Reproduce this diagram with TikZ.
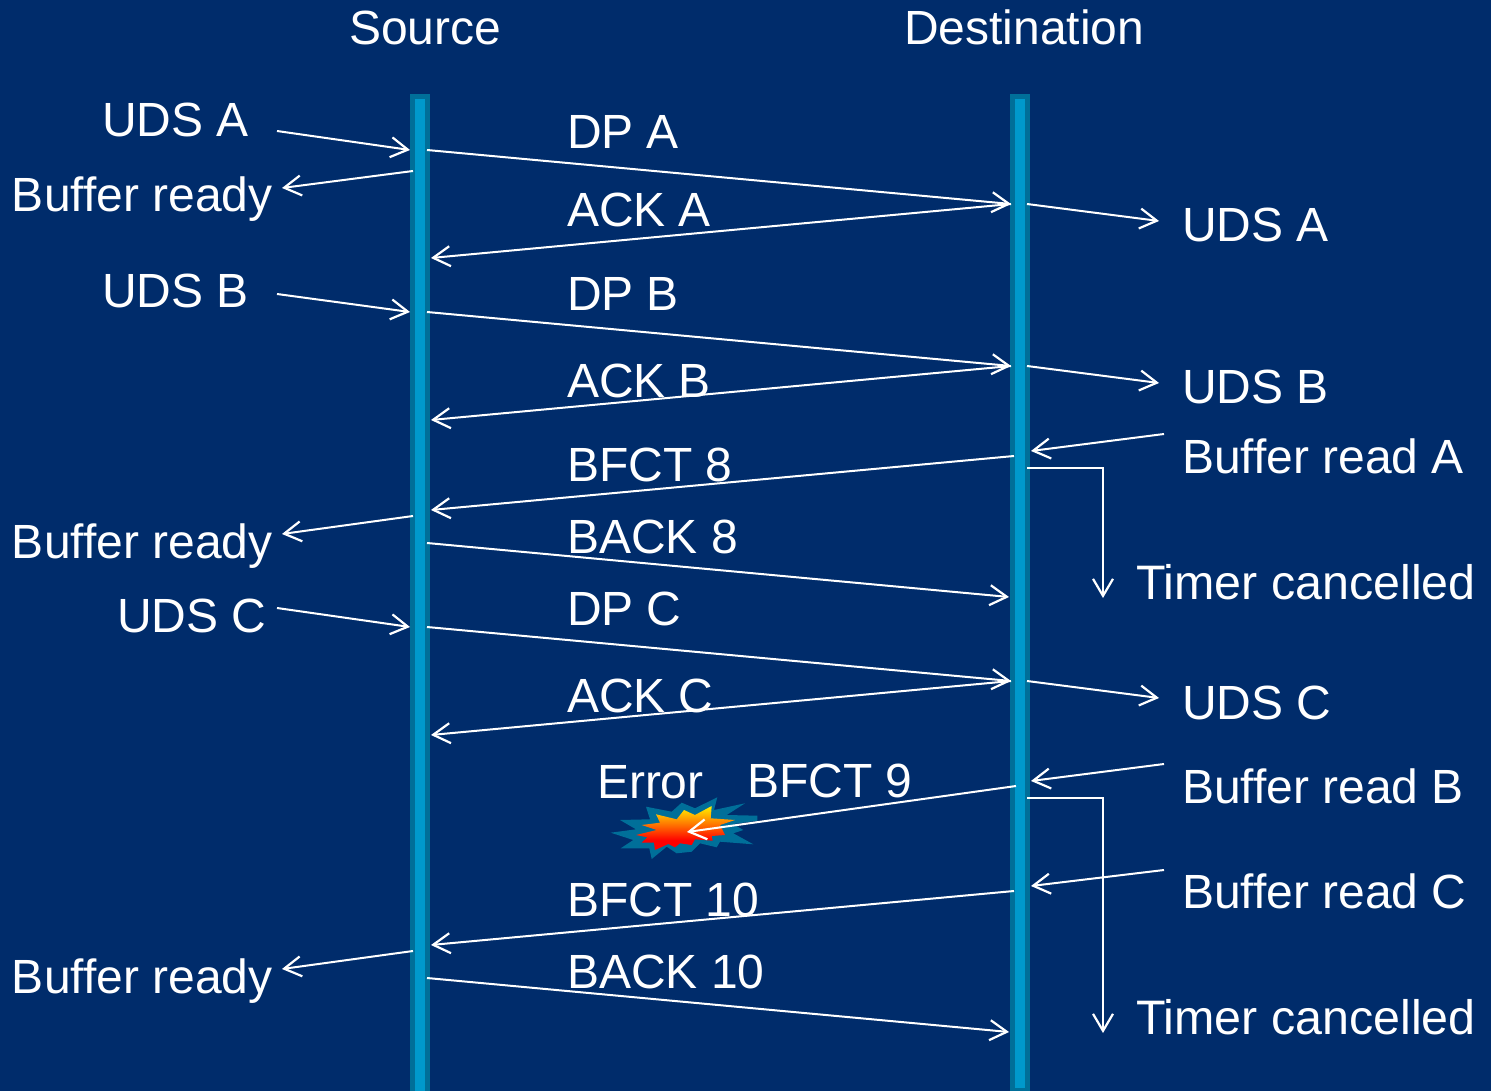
\documentclass[tikz,border=0pt]{standalone}
\usepackage{fontspec}
\setmainfont{Liberation Sans}
\usetikzlibrary{arrows.meta}
\definecolor{bgblue}{HTML}{002C6B}
\definecolor{barouter}{HTML}{006F99}
\definecolor{barinner}{HTML}{0099CC}
\pgfdeclareverticalshading{blast}{100bp}{color(0bp)=(red); color(36bp)=(red); color(56bp)=(orange); color(75bp)=(yellow!90!orange); color(100bp)=(yellow!90!orange)}
\tikzset{
  lbl/.style={anchor=base west,inner sep=0pt,outer sep=0pt,text=white,font=\fontsize{48}{50}\selectfont},
  head/.style={lbl},
  wide/.style={lbl,font=\fontsize{48.4}{50}\selectfont},
  msg/.style={draw=white,line width=2pt,-{Straight Barb[length=17pt,width=20pt,line width=2.2pt]}},
}
\newcommand{\pt}[3]{\coordinate (#1) at (#2,#3);}
\begin{document}
\begin{tikzpicture}[x=1pt,y=-1pt]
\useasboundingbox (0,0) rectangle (1491,1091);
\fill[bgblue] (0,0) rectangle (1491,1091);
% bars
\fill[barouter] (410,94) rectangle (430,1091);
\fill[barinner] (415,99) rectangle (425,1091);
\fill[barouter] (1010,94) rectangle (1030,1091);
\fill[barinner] (1015,99) rectangle (1025,1088);
% explosion
\fill[barouter] (610.7,832.7) -- (636,829.3) -- (620,820) -- (650,819.3) -- (646,806.7) -- (671.7,811.7) -- (681.7,802.7) -- (695,808.3) -- (717.3,797.3) -- (714,810) -- (745,803.3) -- (726.7,815) -- (757.3,815.7) -- (757.3,820.7) -- (733.3,824) -- (743.3,830) -- (733.3,833.3) -- (753.3,844.3) -- (720,841.7) -- (716.7,847.3) -- (700,843.3) -- (691.7,851.7) -- (676.7,853.3) -- (666.7,846.7) -- (651.7,859) -- (649.3,848.3) -- (620.7,848.3) -- (633.3,840) -- cycle;
\shade[shading=blast] (636,835) -- (656.7,830) -- (641.7,825) -- (660,822.7) -- (656,814.3) -- (676.7,819.3) -- (684,810) -- (695,815) -- (711.7,806) -- (710.7,818.3) -- (735,820) -- (720,825) -- (725,835) -- (711.7,836) -- (712.7,840.7) -- (695,839.3) -- (691.7,845) -- (680,843.3) -- (675,847.3) -- (668.3,844) -- (655,850) -- (654,842.7) -- (641.7,842.7) -- (647.3,837.3) -- cycle;
% texts
\node[head] (srcT) at (349,44.5) {Source};
\node[head] (dstT) at (904,44.5) {Destination};
\node[lbl] (t1) at (102,137) {UDS A};
\node[lbl] (t2) at (12,212) {Buffer ready};
\node[lbl] (t3) at (567,148.5) {DP A};
\node[lbl] (t4) at (567,226.5) {ACK A};
\node[lbl] (t5) at (1182,241.5) {UDS A};
\node[lbl] (t6) at (102,308) {UDS B};
\node[lbl] (t7) at (567,310) {DP B};
\node[lbl] (t8) at (567,397) {ACK B};
\node[lbl] (t9) at (1182,403) {UDS B};
\node[lbl] (t10) at (567,481) {BFCT 8};
\node[lbl] (t11) at (1182,473) {Buffer read A};
\node[lbl] (t12) at (12,558) {Buffer ready};
\node[lbl] (t13) at (567,553) {BACK 8};
\node[wide] (t14) at (1136,599) {Timer cancelled};
\node[lbl] (t15) at (567,625) {DP C};
\node[lbl] (t16) at (117,632) {UDS C};
\node[lbl] (t17) at (567,712) {ACK C};
\node[lbl] (t18) at (1182,719) {UDS C};
\node[lbl] (t19) at (597,798) {Error};
\node[lbl] (t20) at (747,797) {BFCT 9};
\node[lbl] (t21) at (1182,803) {Buffer read B};
\node[lbl] (t22) at (1182,908) {Buffer read C};
\node[lbl] (t23) at (567,916) {BFCT 10};
\node[lbl] (t24) at (567,988) {BACK 10};
\node[lbl] (t25) at (12,993) {Buffer ready};
\node[wide] (t26) at (1136,1034) {Timer cancelled};
% connector ends
\pt{a1}{277}{131}\pt{a2}{410}{150}
\pt{b1}{413}{171}\pt{b2}{282}{188}
\pt{c1}{427}{150}\pt{c2}{1011}{204}
\pt{d1}{1011}{204}\pt{d2}{431}{258}
\pt{e1}{1027}{204}\pt{e2}{1159}{221}
\pt{f1}{277}{294}\pt{f2}{410}{312}
\pt{g1}{427}{312}\pt{g2}{1011}{366}
\pt{h1}{1011}{366}\pt{h2}{431}{420}
\pt{i1}{1027}{366}\pt{i2}{1159}{383}
\pt{j1}{1164}{434}\pt{j2}{1031}{451}
\pt{k1}{1014}{456}\pt{k2}{431}{510}
\pt{l1}{1027}{468}\pt{l2}{1103}{468}\pt{l3}{1103}{598}
\pt{m1}{413}{516}\pt{m2}{282}{534}
\pt{n1}{427}{543}\pt{n2}{1009}{597}
\pt{o1}{277}{608}\pt{o2}{410}{627}
\pt{p1}{427}{627}\pt{p2}{1011}{681}
\pt{q1}{1011}{681}\pt{q2}{431}{735}
\pt{r1}{1027}{681}\pt{r2}{1159}{698}
\pt{s1}{1164}{764}\pt{s2}{1031}{781}
\pt{u1}{1016}{786}\pt{u2}{687}{832}
\pt{v1}{1027}{798}\pt{v2}{1103}{798}\pt{v3}{1103}{1033}
\pt{w1}{1164}{870}\pt{w2}{1031}{886}
\pt{y1}{1014}{891}\pt{y2}{431}{945}
\pt{z1}{413}{951}\pt{z2}{282}{969}
\pt{aa1}{427}{978}\pt{aa2}{1009}{1032}
% connectors
\foreach \A/\B in {a1/a2,b1/b2,c1/c2,d1/d2,e1/e2,f1/f2,g1/g2,h1/h2,i1/i2,j1/j2,k1/k2,m1/m2,n1/n2,o1/o2,p1/p2,q1/q2,r1/r2,s1/s2,u1/u2,w1/w2,y1/y2,z1/z2,aa1/aa2}
  \draw[msg] (\A) -- (\B);
\draw[msg] (l1) -- (l2) -- (l3);
\draw[msg] (v1) -- (v2) -- (v3);
\end{tikzpicture}
\end{document}
